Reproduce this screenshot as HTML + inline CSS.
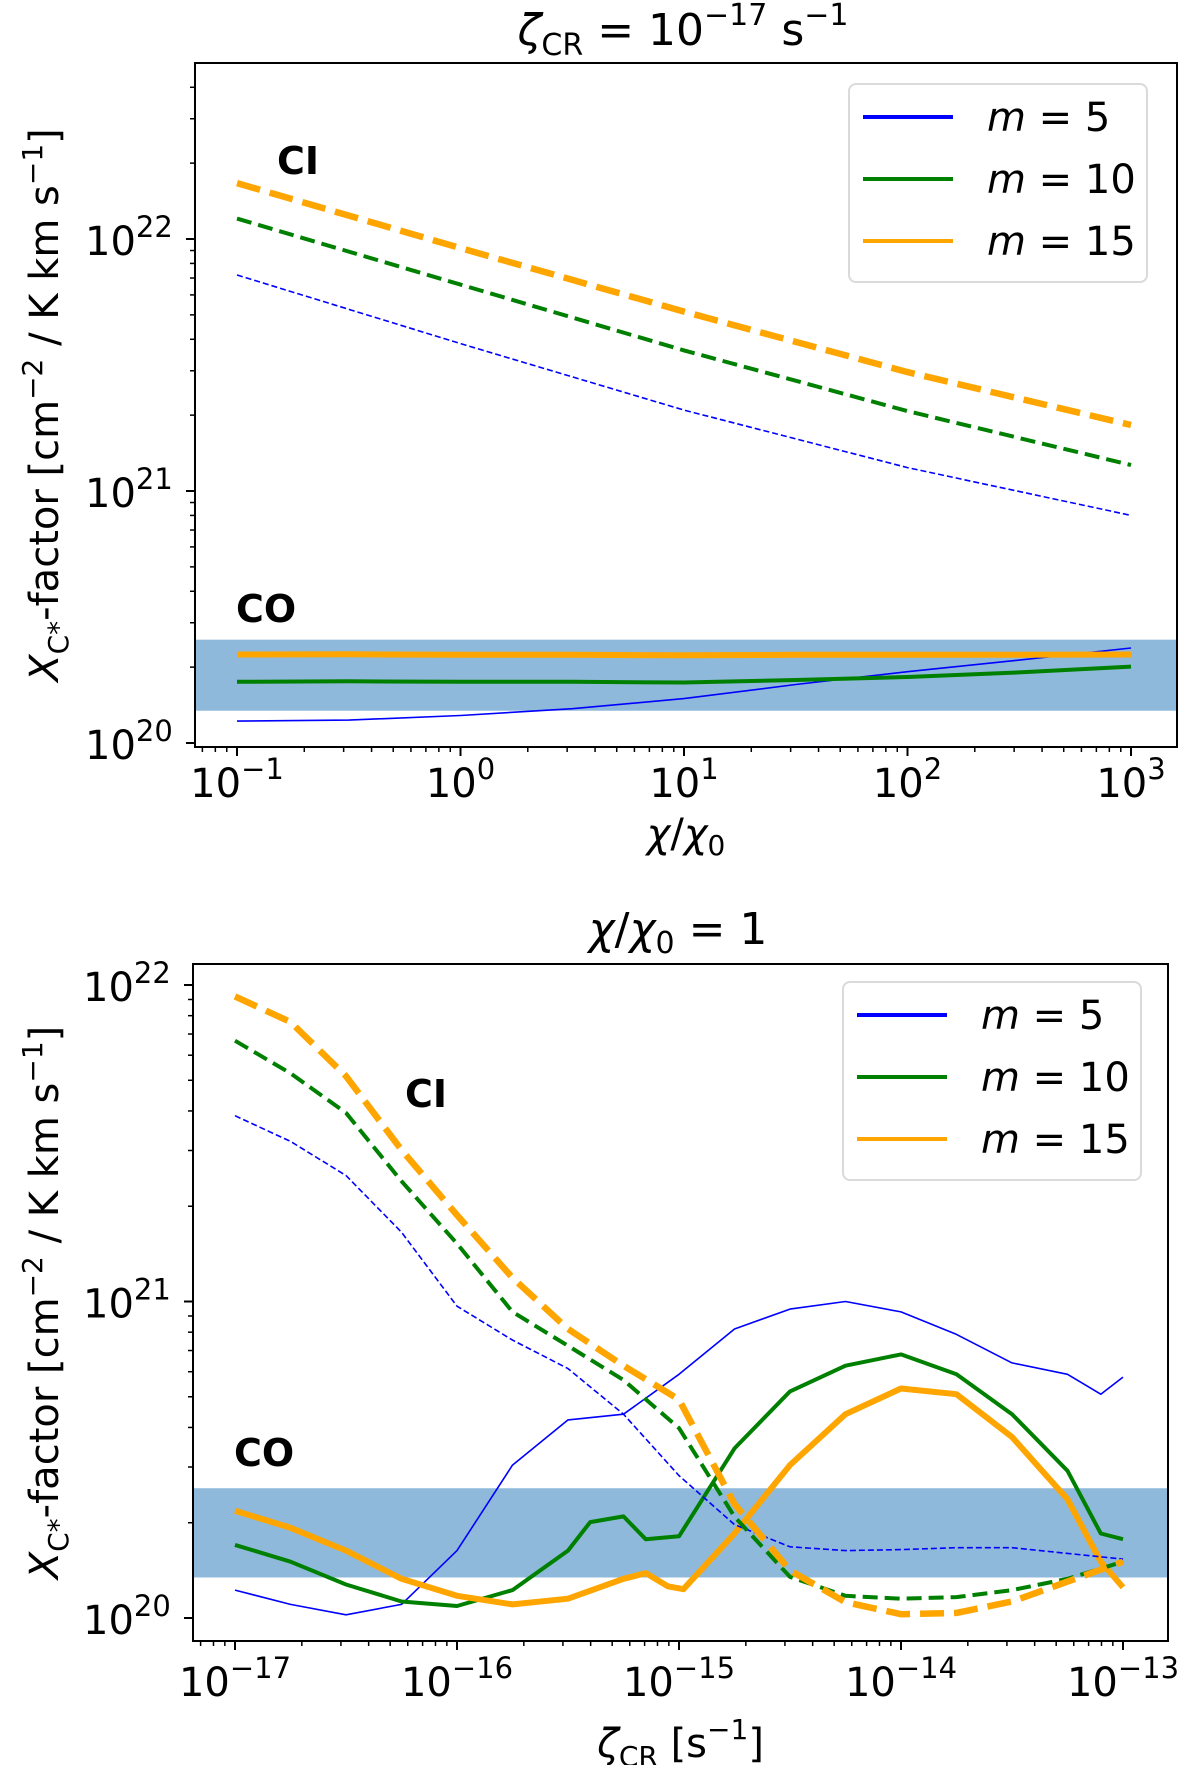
<!DOCTYPE html>
<html><head><meta charset="utf-8"><style>
html,body{margin:0;padding:0;background:#fff;}
svg{display:block;font-family:"DejaVu Sans","Liberation Sans",sans-serif;}
</style></head><body>
<svg id="chart" width="1200" height="1765" viewBox="0 0 1200 1765" xmlns="http://www.w3.org/2000/svg"></svg>
<script>
// ---------- Top panel data (log10 values) ----------
const topX = [-1, 0, 1, 2, 3];
const topCI15 = [22.222, 21.964, 21.712, 21.472, 21.262];
const topCI10 = [22.081, 21.819, 21.558, 21.317, 21.103];
const topCI5 = [21.857, 21.585, 21.321, 21.093, 20.903];
const topCOX = [-1, -0.5, 0, 0.5, 1, 1.5, 2, 2.5, 3];
const topCO15 = [20.351, 20.352, 20.350, 20.350, 20.348, 20.350, 20.350, 20.350, 20.351];
const topCO10 = [20.243, 20.245, 20.243, 20.243, 20.240, 20.250, 20.262, 20.280, 20.303];
const topCO5 = [20.087, 20.091, 20.109, 20.136, 20.176, 20.232, 20.283, 20.329, 20.377];
const topXTicks = ["−1", "0", "1", "2", "3"];
const topYTicks = ["20", "21", "22"];
// ---------- Bottom panel data ----------
const botX = [-17, -16.75, -16.5, -16.25, -16, -15.75, -15.5, -15.25, -15, -14.75, -14.5, -14.25, -14, -13.75, -13.5, -13.25, -13];
const botCI15 = [21.964, 21.883, 21.712, 21.479, 21.273, 21.075, 20.913, 20.797, 20.690, 20.360, 20.150, 20.050, 20.012, 20.016, 20.052, 20.115, 20.178];
const botCI10 = [21.824, 21.721, 21.596, 21.380, 21.183, 20.967, 20.860, 20.752, 20.600, 20.320, 20.130, 20.070, 20.061, 20.066, 20.088, 20.124, 20.178];
const botCI5 = [21.587, 21.506, 21.398, 21.219, 20.985, 20.878, 20.788, 20.644, 20.450, 20.295, 20.225, 20.213, 20.216, 20.222, 20.222, 20.204, 20.186];
const botCO5X = [-17, -16.75, -16.5, -16.25, -16, -15.75, -15.5, -15.25, -15, -14.75, -14.5, -14.25, -14, -13.75, -13.5, -13.25, -13.1, -13];
const botCO5 = [20.088, 20.043, 20.010, 20.043, 20.213, 20.483, 20.626, 20.644, 20.770, 20.913, 20.976, 21.000, 20.967, 20.896, 20.806, 20.770, 20.707, 20.761];
const botCO10X = [-17, -16.75, -16.5, -16.25, -16, -15.75, -15.5, -15.4, -15.25, -15.15, -15, -14.75, -14.5, -14.25, -14, -13.75, -13.5, -13.25, -13.1, -13];
const botCO10 = [20.231, 20.178, 20.106, 20.052, 20.038, 20.088, 20.213, 20.303, 20.321, 20.249, 20.258, 20.536, 20.716, 20.797, 20.833, 20.770, 20.644, 20.465, 20.267, 20.249];
const botCO15X = [-17, -16.75, -16.5, -16.25, -16, -15.75, -15.5, -15.25, -15.15, -15.05, -14.98, -14.75, -14.5, -14.25, -14, -13.75, -13.5, -13.25, -13.1, -13];
const botCO15 = [20.339, 20.285, 20.213, 20.124, 20.070, 20.043, 20.061, 20.124, 20.142, 20.100, 20.091, 20.267, 20.483, 20.644, 20.725, 20.707, 20.572, 20.375, 20.178, 20.097];
const botXTicks = ["−17", "−16", "−15", "−14", "−13"];
const botYTicks = ["20", "21", "22"];

const NS = "http://www.w3.org/2000/svg";
const svg = document.getElementById("chart");
function el(tag, attrs, parent) {
  const e = document.createElementNS(NS, tag);
  for (const k in attrs) e.setAttribute(k, attrs[k]);
  (parent || svg).appendChild(e);
  return e;
}
const BLUE = "#0000ff", GREEN = "#008000", ORANGE = "#ffa500";

function panel(cfg) {
  const g = el("g", {});
  
  
  const sx = v => cfg.x0px + (v - cfg.x0) * cfg.xdec;
  const sy = v => cfg.y0px - (v - cfg.y0) * cfg.ydec;
  const band = el("rect", {x: cfg.L, y: sy(20.41), width: cfg.R - cfg.L, height: sy(20.128) - sy(20.41), fill: "#8fb9da"}, g);
  
  
  const cid = "clip" + cfg.name;
  const cp = el("clipPath", {id: cid}, g);
  el("rect", {x: cfg.L, y: cfg.T, width: cfg.R - cfg.L, height: cfg.B - cfg.T}, cp);
  const lg = el("g", {"clip-path": "url(#" + cid + ")"}, g);
  function line(xs, ys, color, w, dash, name) {
    const d = xs.map((x, i) => (i ? "L" : "M") + sx(x).toFixed(1) + " " + sy(ys[i]).toFixed(1)).join(" ");
    const p = el("path", {d: d, fill: "none", stroke: color, "stroke-width": w, "stroke-linejoin": "round"}, lg);
    if (dash) p.setAttribute("stroke-dasharray", dash);
    
    
  }
  cfg.series.forEach(s => line(s[0], s[1], s[2], s[3], s[4], s[5]));
  const fr = el("rect", {x: cfg.L, y: cfg.T, width: cfg.R - cfg.L, height: cfg.B - cfg.T, fill: "none", stroke: "#000", "stroke-width": 2}, g);
  
  
  for (let i = 0; i < cfg.xticks.length; i++) {
    const dv = cfg.x0 + i;
    const X = sx(dv);
    el("line", {x1: X, x2: X, y1: cfg.B, y2: cfg.B + 9, stroke: "#000", "stroke-width": 2}, g);
    const t = el("text", {x: X, y: cfg.B + cfg.xtickDy, "font-size": 40, "text-anchor": "middle"}, g);
    
    
    t.innerHTML = '10<tspan dy="-18" font-size="29">' + cfg.xticks[i] + '</tspan>';
  }
  for (let d = cfg.x0 - 1; d < cfg.x0 + cfg.xticks.length; d++) {
    for (let m = 2; m <= 9; m++) {
      const X = sx(d + Math.log10(m));
      if (X < cfg.L || X > cfg.R) continue;
      el("line", {x1: X, x2: X, y1: cfg.B, y2: cfg.B + 5, stroke: "#000", "stroke-width": 1.5}, g);
    }
  }
  for (let i = 0; i < cfg.yticks.length; i++) {
    const v = 20 + i;
    const Y = sy(v);
    el("line", {x1: cfg.L, x2: cfg.L - 9, y1: Y, y2: Y, stroke: "#000", "stroke-width": 2}, g);
    const t = el("text", {x: cfg.L - 110, y: Y + 16, "font-size": 40}, g);
    
    
    t.innerHTML = '10<tspan dy="-18" font-size="29">' + cfg.yticks[i] + '</tspan>';
    for (let m = 2; m <= 9; m++) {
      const Ym = sy(v + Math.log10(m));
      if (Ym < cfg.T) continue;
      el("line", {x1: cfg.L, x2: cfg.L - 5, y1: Ym, y2: Ym, stroke: "#000", "stroke-width": 1.5}, g);
    }
  }
  const cy = (cfg.T + cfg.B) / 2;
  const yl = el("text", {x: 0, y: 0, "font-size": 40, "text-anchor": "middle", transform: "translate(58," + cy + ") rotate(-90)"}, g);
  
  
  yl.innerHTML = '<tspan font-style="italic">X</tspan><tspan font-size="28" dy="10">C*</tspan><tspan dy="-10">-factor [cm</tspan><tspan font-size="28" dy="-16">−2</tspan><tspan dy="16"> / K km s</tspan><tspan font-size="28" dy="-16">−1</tspan><tspan dy="16">]</tspan>';
  const lgb = el("rect", {x: cfg.legX, y: cfg.legY, width: 298, height: 198, rx: 7, fill: "#fff", stroke: "#d6d6d6", "stroke-width": 2, opacity: 0.9}, g);
  
  
  const labs = [["5", BLUE], ["10", GREEN], ["15", ORANGE]];
  labs.forEach((l, i) => {
    const yy = cfg.legY + 33 + i * 62;
    const ln = el("line", {x1: cfg.legX + 14, x2: cfg.legX + 104, y1: yy, y2: yy, stroke: l[1], "stroke-width": 4}, g);
    
    
    const t = el("text", {x: cfg.legX + 138, y: yy + 14, "font-size": 40}, g);
    
    
    t.innerHTML = '<tspan font-style="italic">m</tspan> = ' + l[0];
  });
  const ci = el("text", {x: cfg.ciX, y: cfg.ciY, "font-size": 38, "font-weight": "bold"}, g);
  
  
  ci.textContent = "CI";
  const co = el("text", {x: cfg.coX, y: cfg.coY, "font-size": 38, "font-weight": "bold"}, g);
  
  
  co.textContent = "CO";
  const tt = el("text", {x: cfg.titleX, y: cfg.titleY, "font-size": 44, "text-anchor": "middle"}, g);
  
  
  tt.innerHTML = cfg.title;
  const xt = el("text", {x: (cfg.L + cfg.R) / 2, y: cfg.B + cfg.xtitleDy, "font-size": 40, "text-anchor": "middle"}, g);
  
  
  xt.innerHTML = cfg.xtitle;
}

panel({
  name: "top-panel", L: 195, R: 1177, T: 63, B: 747,
  x0: -1, x0px: 237, xdec: 223.5, y0: 20, y0px: 743, ydec: 252,
  xticks: topXTicks, yticks: topYTicks, xtickDy: 50, xtitleDy: 100,
  series: [
    [topCOX, topCO5, BLUE, 1.6, null, "co-m5-line"],
    [topCOX, topCO10, GREEN, 4, null, "co-m10-line"],
    [topCOX, topCO15, ORANGE, 6, null, "co-m15-line"],
    [topX, topCI5, BLUE, 1.6, "6 3", "ci-m5-line"],
    [topX, topCI10, GREEN, 4, "15 7", "ci-m10-line"],
    [topX, topCI15, ORANGE, 6.5, "24 10", "ci-m15-line"]
  ],
  legX: 849, legY: 84, ciX: 277, ciY: 174, coX: 236, coY: 622,
  titleX: 683, titleY: 45,
  title: '<tspan font-style="italic">ζ</tspan><tspan font-size="30" dy="10">CR</tspan><tspan dy="-10"> = 10</tspan><tspan font-size="30" dy="-20">−17</tspan><tspan dy="20"> s</tspan><tspan font-size="30" dy="-20">−1</tspan>',
  xtitle: '<tspan font-style="italic">χ</tspan>/<tspan font-style="italic">χ</tspan><tspan font-size="28" dy="8">0</tspan>'
});

panel({
  name: "bottom-panel", L: 193, R: 1168, T: 964, B: 1641,
  x0: -17, x0px: 235, xdec: 222, y0: 20, y0px: 1618, ydec: 316.5,
  xticks: botXTicks, yticks: botYTicks, xtickDy: 55, xtitleDy: 116,
  series: [
    [botCO5X, botCO5, BLUE, 1.6, null, "co-m5-line"],
    [botCO10X, botCO10, GREEN, 4, null, "co-m10-line"],
    [botCO15X, botCO15, ORANGE, 6, null, "co-m15-line"],
    [botX, botCI5, BLUE, 1.6, "6 3", "ci-m5-line"],
    [botX, botCI10, GREEN, 4, "15 7", "ci-m10-line"],
    [botX, botCI15, ORANGE, 6.5, "24 10", "ci-m15-line"]
  ],
  legX: 843, legY: 982, ciX: 405, ciY: 1107, coX: 234, coY: 1466,
  titleX: 678, titleY: 944,
  title: '<tspan font-style="italic">χ</tspan>/<tspan font-style="italic">χ</tspan><tspan font-size="30" dy="9">0</tspan><tspan dy="-9"> = 1</tspan>',
  xtitle: '<tspan font-style="italic">ζ</tspan><tspan font-size="28" dy="9">CR</tspan><tspan dy="-9"> [s</tspan><tspan font-size="28" dy="-18">−1</tspan><tspan dy="18">]</tspan>'
});
</script>
</body></html>
